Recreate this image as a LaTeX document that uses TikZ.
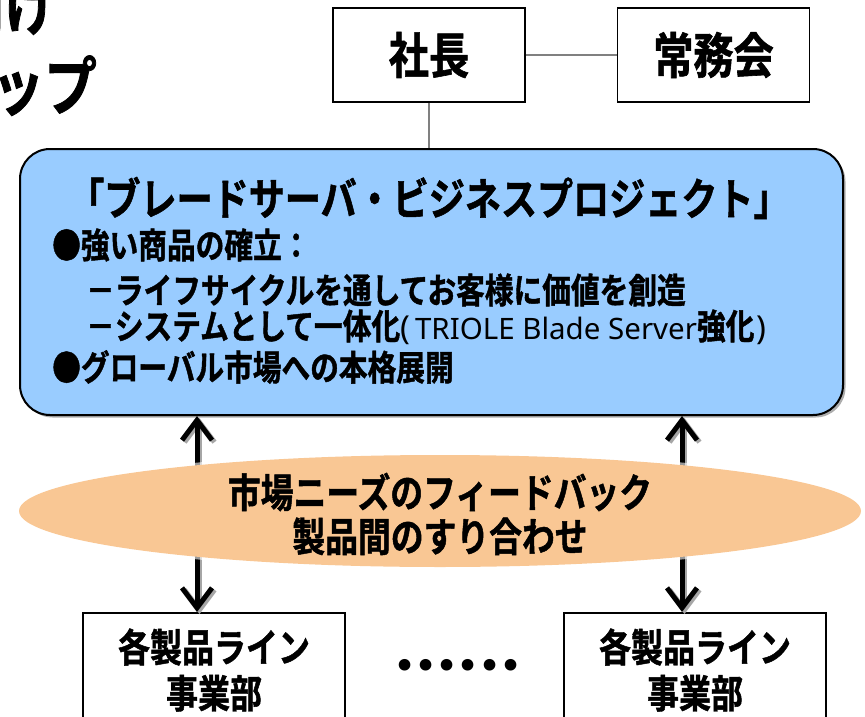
\documentclass[tikz,border=0pt]{standalone}
\usepackage{fontspec}
\usetikzlibrary{arrows.meta,shadows}
\newfontfamily\jpb[FakeStretch=0.82,FakeBold=1.2]{Noto Sans CJK JP Bold}
\newfontfamily\jpr{Noto Sans CJK JP}
\newfontfamily\lat{Noto Sans}
\newfontfamily\dv{DejaVu Sans}
\definecolor{boxblue}{HTML}{99CCFF}
\definecolor{peach}{HTML}{F9C794}
\definecolor{linegray}{HTML}{808080}
\tikzset{
  orgbox/.style={draw=black, line width=1.5pt, fill=white, minimum width=192pt, minimum height=94pt, inner sep=0pt, align=center},
  bizbox/.style={draw=black, line width=1.5pt, fill=white, minimum width=262pt, minimum height=118pt, inner sep=0pt},
  thin/.style={draw=linegray, line width=1.2pt},
  fbarrow/.style={line width=5pt, {Straight Barb[length=20pt,width=30pt]}-{Straight Barb[length=20pt,width=30pt]}},
  txt/.style={inner sep=0pt, font=\jpb},
}
\begin{document}
\begin{tikzpicture}[x=1pt,y=-1pt]
\useasboundingbox (0,0) rectangle (865,717);
\clip (0,0) rectangle (865,717);
% cut-off title
\node[txt, anchor=base east, font=\jpb\fontsize{64}{64}\selectfont] (t1) at (57,30) {に向け};
\node[txt, anchor=base east, font=\jpb\fontsize{64}{64}\selectfont] (t2) at (97,110) {リーダーシップ};
% top boxes
\node[orgbox, font=\jpb\fontsize{49}{49}\selectfont] (pres) at (429,55) {社長};
\node[orgbox, font=\jpb\fontsize{49}{49}\selectfont] (board) at (713.5,55) {常務会};
\draw[thin] (pres.east) -- (board.west);
% main project box
\node[draw=black, line width=2pt, fill=boxblue, rounded corners=30pt,
      minimum width=823pt, minimum height=266pt, inner sep=0pt,
      drop shadow={shadow xshift=2.5pt, shadow yshift=-2.5pt, fill=gray!80, opacity=0.8}] (main) at (431.5,282) {};
\draw[thin] (pres.south) -- (main.north -| pres.south);
\node[txt, font=\jpb\fontsize{44}{44}\selectfont] (title) at (429,198) {「ブレードサーバ・ビジネスプロジェクト」};
\node[txt, anchor=west, font=\jpb\fontsize{35}{35}\selectfont] (b1) at (52,245) {●強い商品の確立：};
\node[txt, anchor=west, font=\jpb\fontsize{35}{35}\selectfont] (b2) at (86,290) {－ライフサイクルを通してお客様に価値を創造};
\node[txt, anchor=west, font=\jpb\fontsize{35}{35}\selectfont] (b3) at (86,327) {－システムとして一体化{\lat\fontsize{33}{33}\selectfont (\hspace{5pt}}{\lat\fontsize{29.5}{29.5}\selectfont TRIOLE Blade Server}強化{\lat\fontsize{33}{33}\selectfont \hspace{2pt})}};
\node[txt, anchor=west, font=\jpb\fontsize{35}{35}\selectfont] (b4) at (52,367) {●グローバル市場への本格展開};
% bottom boxes
\node[bizbox, anchor=north] (divL) at (214,612) {};
\node[bizbox, anchor=north] (divR) at (695,612) {};
\node[txt, align=center, font=\jpb\fontsize{39}{46}\selectfont] (divLt) at (214,670) {各製品ライン\\事業部};
\node[txt, align=center, font=\jpb\fontsize{39}{46}\selectfont] (divRt) at (695,670) {各製品ライン\\事業部};
\node[inner sep=0pt, font=\dv\bfseries\fontsize{33}{33}\selectfont] (dots) at (458,668) {••••••};
% arrows
\coordinate (axL) at (197,0);
\coordinate (axR) at (682,0);
\begin{scope}[transform canvas={xshift=2.5pt,yshift=-2pt}]
\draw[fbarrow, draw=gray!70] (axL |- main.south) -- (axL |- divL.north);
\draw[fbarrow, draw=gray!70] (axR |- main.south) -- (axR |- divR.north);
\end{scope}
\draw[fbarrow] (axL |- main.south) -- (axL |- divL.north);
\draw[fbarrow] (axR |- main.south) -- (axR |- divR.north);
% ellipse
\fill[white, opacity=0.6] (440,511) ellipse [x radius=424pt, y radius=59pt];
\fill[peach] (440,511) ellipse [x radius=421pt, y radius=56pt];
\node[txt, align=center, font=\jpb\fontsize{40}{44}\selectfont] (fb) at (440,514) {市場ニーズのフィードバック\\製品間のすり合わせ};
\end{tikzpicture}
\end{document}
